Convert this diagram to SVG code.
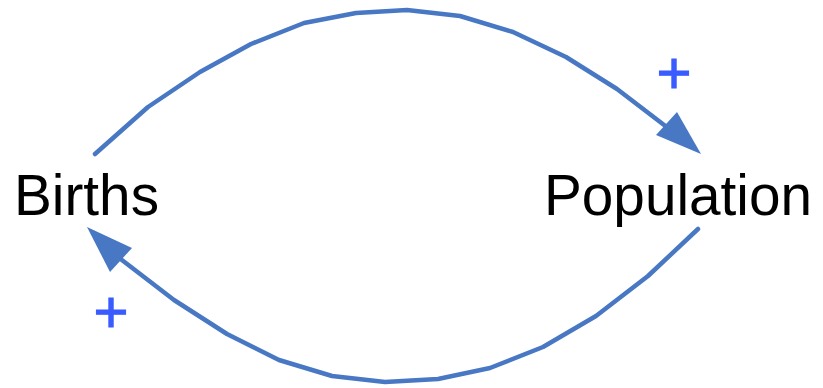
<svg xmlns="http://www.w3.org/2000/svg" width="823" height="388" viewBox="0 0 823 388">
<style>
.link{fill:none;stroke:#4878c3;stroke-width:4.5;stroke-linecap:round;stroke-linejoin:round}
.head{fill:#4878c3}
.lbl{font-family:"Liberation Sans",Arial,sans-serif;font-size:58px;fill:#000}
.pol{font-family:"Liberation Sans",Arial,sans-serif;font-size:60px;fill:#3a5cff;stroke:#3a5cff;stroke-width:1;text-anchor:middle}
</style>
<rect width="823" height="388" fill="#fff"/>
<g id="connectors">
<polyline class="link" points="95,154 148,107 200,72 251,44 304,23 356,13 407,10 460,16 513,32 566,57 617,89 668,128"/>
<path class="head" d="M701,154 L656,135 L677,112 z"/>
<polyline class="link" points="698,229 648,276 596,316 543,347 490,368 438,379 385,382 332,376 279,360 227,334 174,300 118,257"/>
<path class="head" d="M87,227 L132,248 L110,272 z"/>
<text class="pol" x="674" y="93">+</text>
<text class="pol" x="111" y="332">+</text>
</g>
<g id="births"><text class="lbl" x="14" y="215" textLength="145" lengthAdjust="spacingAndGlyphs">Births</text></g>
<g id="population"><text class="lbl" x="544" y="215" textLength="268" lengthAdjust="spacingAndGlyphs">Population</text></g>
</svg>
